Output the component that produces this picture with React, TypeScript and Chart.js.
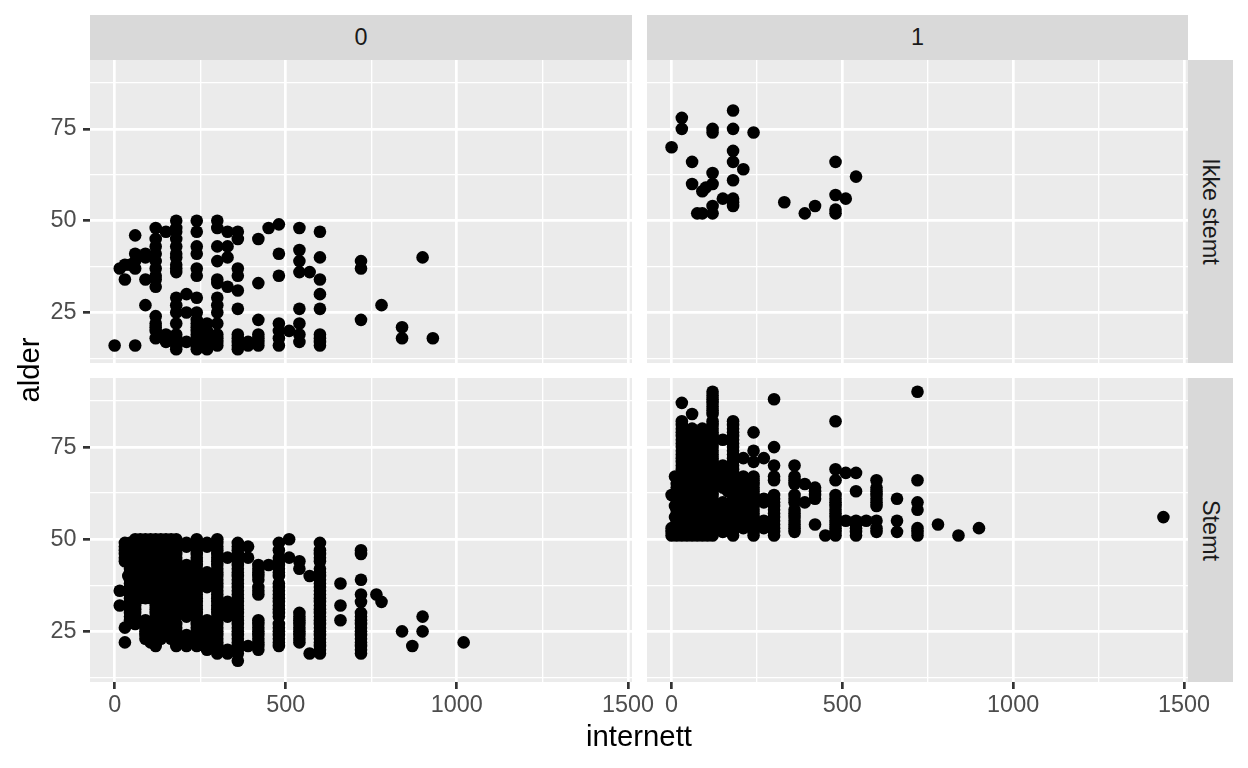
import React, { useEffect, useRef } from "react";
import { Chart, registerables } from "chart.js";

Chart.register(...registerables);

type Col = [number, number[]];

const xTicks = [0, 250, 500, 750, 1000, 1250, 1500];
const xLabels = [0, 500, 1000, 1500];
const yTicks = [12.5, 25, 37.5, 50, 62.5, 75, 87.5];
const yLabels = [25, 50, 75];
const xLimits = [-72, 1512];
const yLimits = [11.25, 93.75];
const columnStrips = ["0", "1"];
const rowStrips = ["Ikke stemt", "Stemt"];

const ikkeStemt0: Col[] = [
  [0, [16]], [15, [37]], [30, [38, 34]], [45, [38]],
  [60, [46, 41, 39, 37, 16]], [90, [41, 40, 34, 27]],
  [120, [48, 45, 43, 41, 39, 37, 35, 34, 32, 24, 22, 21, 20, 18]],
  [150, [47, 19, 17]],
  [180, [50, 48, 47, 45, 43, 41, 40, 38, 37, 36, 29, 27, 25, 22, 19, 18, 17, 16, 15]],
  [210, [30, 25, 17]],
  [240, [50, 47, 43, 41, 37, 35, 29, 25, 23, 22, 21, 20, 19, 18, 17, 16, 15]],
  [270, [22, 20, 19, 18, 17, 16, 15]],
  [300, [50, 48, 43, 39, 34, 33, 29, 27, 25, 22, 19, 18, 17, 16]],
  [330, [47, 43, 40, 32]],
  [360, [47, 45, 37, 35, 31, 26, 19, 18, 17, 16, 15]],
  [390, [17, 16]],
  [420, [45, 33, 23, 19, 18, 17, 16]],
  [450, [48]],
  [480, [49, 41, 35, 22, 20, 18, 16]],
  [510, [20]],
  [540, [48, 42, 39, 36, 26, 22, 19, 17]],
  [570, [36]],
  [600, [47, 40, 34, 30, 26, 19, 18, 17, 16]],
  [720, [39, 37, 23]], [780, [27]], [840, [21, 18]], [900, [40]], [930, [18]],
];

const ikkeStemt1: Col[] = [
  [0, [70]], [30, [78, 75]], [60, [66, 60]], [75, [52]], [90, [58, 52]], [100, [59]],
  [120, [75, 74, 63, 60, 54, 52]], [150, [56]],
  [180, [80, 75, 69, 66, 61, 56, 55, 54]], [210, [64]], [240, [74]],
  [330, [55]], [390, [52]], [420, [54]],
  [480, [66, 57, 53, 52]], [510, [56]], [540, [62]],
];

const stemt0: Col[] = [
  [15, [36, 32]],
  [30, [49, 48, 47, 46, 45, 44, 26, 22]],
  [40, [40]],
  [45, [49, 48, 47, 46, 45, 44, 43, 42, 41, 40, 39, 38, 37, 36, 35, 34, 33, 32, 31, 30, 29, 28]],
  [60, [50, 49, 48, 47, 46, 45, 44, 43, 42, 41, 40, 39, 38, 37, 36, 35, 34, 33, 32, 31, 30, 29, 28, 27]],
  [75, [50, 49, 48, 47, 46, 45, 44, 43, 42, 41, 40, 39, 38, 37, 36, 35, 34]],
  [90, [50, 49, 48, 47, 46, 45, 44, 43, 42, 41, 40, 39, 38, 37, 36, 35, 34, 28, 27, 26, 25, 24, 23]],
  [105, [50, 49, 48, 47, 46, 45, 44, 43, 42, 41, 40, 39, 38, 37, 36, 35, 34, 27, 26, 25, 24, 23, 22]],
  [120, [50, 49, 48, 47, 46, 45, 44, 43, 42, 41, 40, 39, 38, 37, 36, 35, 34, 33, 32, 31, 30, 29, 28, 27, 26, 25, 24, 23, 22, 21]],
  [135, [50, 49, 48, 47, 46, 45, 44, 43, 42, 41, 40, 39, 38, 37, 36, 35, 34, 33, 32, 31, 30, 27, 26, 25, 24, 23]],
  [150, [50, 49, 48, 47, 46, 45, 44, 43, 42, 41, 40, 39, 38, 37, 36, 35, 34, 33, 32, 31, 30, 29, 27, 26, 25, 24]],
  [165, [50, 49, 48, 47, 46, 45, 44, 43, 42, 41, 40, 39, 38, 37, 36, 35, 34, 33, 32, 31, 30, 27, 26, 25, 24, 23]],
  [180, [50, 49, 48, 47, 46, 45, 44, 43, 42, 41, 40, 39, 38, 37, 36, 35, 34, 33, 32, 31, 30, 29, 27, 26, 25, 24, 23, 22, 21]],
  [210, [49, 48, 43, 42, 41, 40, 39, 38, 37, 36, 35, 34, 33, 32, 31, 30, 29, 24, 23, 22, 21]],
  [240, [50, 49, 47, 46, 45, 44, 43, 42, 41, 40, 39, 38, 37, 36, 35, 34, 33, 32, 31, 30, 29, 28, 27, 26, 25, 24, 23, 22, 21]],
  [270, [49, 48, 41, 40, 39, 38, 37, 28, 27, 26, 25, 24, 23, 22, 21, 20]],
  [300, [50, 49, 48, 47, 46, 45, 44, 43, 42, 41, 40, 39, 38, 37, 36, 35, 34, 33, 32, 31, 30, 29, 28, 27, 26, 25, 24, 23, 22, 21, 20, 19]],
  [330, [45, 33, 32, 31, 30, 29, 20, 19]],
  [360, [49, 48, 47, 46, 45, 44, 43, 42, 41, 40, 39, 38, 37, 36, 35, 34, 33, 32, 31, 30, 29, 28, 27, 26, 25, 24, 23, 22, 21, 20, 19, 17]],
  [390, [48, 45, 21]],
  [420, [43, 42, 41, 40, 39, 37, 36, 35, 28, 27, 26, 25, 24, 23, 22, 21, 20]],
  [450, [43]],
  [480, [49, 47, 45, 44, 43, 42, 41, 40, 38, 37, 36, 35, 34, 33, 32, 31, 30, 29, 27, 26, 25, 24, 23, 22, 21]],
  [510, [50, 45]],
  [540, [44, 42, 30, 29, 28, 27, 26, 25, 24, 23, 22]],
  [570, [40, 19]],
  [600, [49, 47, 46, 45, 44, 42, 41, 40, 39, 38, 37, 36, 35, 34, 33, 32, 31, 30, 29, 28, 27, 26, 25, 24, 23, 22, 21, 20, 19]],
  [660, [38, 32, 28]],
  [720, [47, 46, 39, 35, 33, 30, 29, 28, 27, 26, 25, 24, 23, 22, 21, 20, 19]],
  [765, [35]], [780, [33]], [840, [25]], [870, [21]], [900, [29, 25]], [1020, [22]],
];

const stemt1: Col[] = [
  [0, [62, 53, 52, 51]],
  [10, [67, 59, 56]],
  [15, [65, 64, 63, 62, 61, 60, 59, 58, 57, 56, 55, 54, 53, 52, 51]],
  [30, [87, 82, 81, 80, 79, 78, 77, 76, 75, 74, 73, 72, 71, 70, 69, 68, 67, 66, 65, 64, 63, 62, 61, 60, 59, 58, 57, 56, 55, 54, 53, 52, 51]],
  [45, [78, 77, 76, 75, 74, 73, 72, 71, 70, 69, 68, 67, 66, 65, 64, 63, 62, 61, 60, 59, 58, 57, 56, 55, 54, 53, 52, 51]],
  [60, [84, 80, 79, 78, 77, 76, 75, 74, 73, 72, 71, 70, 69, 68, 67, 66, 65, 64, 63, 62, 61, 60, 59, 58, 57, 56, 55, 54, 53, 52, 51]],
  [75, [78, 77, 76, 75, 74, 73, 72, 71, 70, 69, 68, 67, 66, 65, 64, 63, 62, 61, 60, 59, 58, 57, 56, 55, 54, 53, 52, 51]],
  [90, [80, 79, 78, 76, 75, 74, 73, 72, 71, 70, 69, 68, 67, 66, 65, 64, 63, 62, 61, 60, 59, 58, 57, 56, 55, 54, 53, 52, 51]],
  [105, [76, 75, 74, 73, 72, 71, 70, 69, 68, 67, 66, 65, 64, 63, 62, 61, 60, 59, 58, 57, 56, 55, 54, 53, 52, 51]],
  [120, [90, 89, 88, 87, 86, 85, 84, 82, 81, 80, 79, 78, 77, 76, 75, 74, 73, 72, 71, 70, 69, 68, 67, 66, 65, 64, 63, 62, 61, 60, 59, 58, 57, 56, 55, 54, 53, 52, 51]],
  [150, [77, 70, 69, 68, 67, 66, 65, 64, 60, 59, 58, 57, 56, 55, 54, 53, 52]],
  [165, [63]],
  [180, [82, 81, 80, 79, 78, 77, 76, 75, 74, 73, 72, 71, 70, 69, 68, 67, 66, 65, 64, 63, 62, 61, 60, 59, 58, 57, 56, 55, 54, 53, 52, 51]],
  [210, [72, 67, 66, 65, 64, 63, 62, 61, 60, 59, 58, 57, 56, 55, 54, 53]],
  [240, [79, 74, 71, 67, 66, 65, 64, 63, 62, 61, 60, 59, 58, 57, 56, 55, 54, 52, 51]],
  [270, [72, 61, 60, 55, 54, 53]],
  [300, [88, 75, 70, 67, 66, 62, 61, 60, 59, 58, 57, 56, 55, 54, 53, 52, 51]],
  [360, [70, 67, 66, 65, 62, 61, 60, 58, 57, 56, 55, 54, 53, 52]],
  [390, [65, 60]],
  [420, [64, 63, 62, 61, 54]],
  [450, [51]],
  [480, [82, 69, 66, 62, 61, 60, 59, 58, 57, 56, 55, 54, 53, 52, 51]],
  [510, [68, 55]],
  [540, [68, 63, 55, 54, 53, 52, 51]],
  [570, [55]],
  [600, [66, 64, 63, 62, 61, 60, 59, 55, 53, 52]],
  [660, [61, 55, 52]],
  [720, [90, 66, 60, 58, 53, 52, 51]],
  [780, [54]], [840, [51]], [900, [53]], [1440, [56]],
];

const FONT = '"Liberation Sans", Arial, sans-serif';

const panelBackground = {
  id: "panelBackground",
  beforeDraw(chart: any) {
    const a = chart.chartArea;
    chart.ctx.save();
    chart.ctx.fillStyle = "#EBEBEB";
    chart.ctx.fillRect(a.left, a.top, a.right - a.left, a.bottom - a.top);
    chart.ctx.restore();
  },
};

const noPadding = (s: any) => {
  s.paddingLeft = 0;
  s.paddingRight = 0;
  s.paddingTop = 0;
  s.paddingBottom = 0;
};

function Panel({ cols, left, top, width, height, showX, showY }: {
  cols: Col[]; left: number; top: number; width: number; height: number; showX: boolean; showY: boolean;
}) {
  const ref = useRef<HTMLCanvasElement>(null);
  useEffect(() => {
    const axisH = showX ? 50 : 0;
    const axisW = showY ? 90 : 0;
    const tickFont = { family: FONT, size: 23.4 };
    const points = cols.flatMap(([x, ages]) => ages.map((y) => ({ x, y })));
    const chart = new Chart(ref.current!, {
      type: "scatter",
      data: {
        datasets: [{ data: points, backgroundColor: "#000", borderWidth: 0, pointRadius: 6.3, pointHoverRadius: 6.3 }],
      },
      plugins: [panelBackground],
      options: {
        responsive: false,
        animation: false,
        events: [],
        layout: { autoPadding: false, padding: { right: 34, top: 0, left: 0, bottom: 0 } },
        plugins: { legend: { display: false }, title: { display: false }, tooltip: { enabled: false } },
        scales: {
          x: {
            type: "linear", min: xLimits[0], max: xLimits[1],
            afterBuildTicks: (s: any) => { s.ticks = xTicks.map((value) => ({ value })); },
            afterFit: (s: any) => { s.height = axisH; noPadding(s); },
            border: { display: false },
            grid: {
              color: "#FFFFFF",
              lineWidth: (c: any) => (xLabels.includes(c.tick?.value) ? 2.7 : 1.35),
              drawTicks: showX,
              tickLength: 7,
              tickColor: (c: any) => (xLabels.includes(c.tick?.value) ? "#333333" : "rgba(0,0,0,0)"),
              tickWidth: 2.7,
            },
            ticks: {
              display: showX, autoSkip: false, maxRotation: 0, minRotation: 0, padding: 3, color: "#4D4D4D", font: tickFont,
              callback: (v: any) => (xLabels.includes(v) ? String(v) : ""),
            },
          },
          y: {
            type: "linear", min: yLimits[0], max: yLimits[1],
            afterBuildTicks: (s: any) => { s.ticks = yTicks.map((value) => ({ value })); },
            afterFit: (s: any) => { s.width = axisW; noPadding(s); },
            border: { display: false },
            grid: {
              color: "#FFFFFF",
              lineWidth: (c: any) => (yLabels.includes(c.tick?.value) ? 2.7 : 1.35),
              drawTicks: showY,
              tickLength: 7,
              tickColor: (c: any) => (yLabels.includes(c.tick?.value) ? "#333333" : "rgba(0,0,0,0)"),
              tickWidth: 2.7,
            },
            ticks: {
              display: showY, autoSkip: false, padding: 6.5, color: "#4D4D4D", font: tickFont,
              callback: (v: any) => (yLabels.includes(v) ? String(v) : ""),
            },
          },
        },
      } as any,
    });
    return () => chart.destroy();
  }, []);
  return <canvas ref={ref} width={width} height={height} style={{ position: "absolute", left, top, width, height }} />;
}

const stripStyle: React.CSSProperties = {
  position: "absolute", background: "#D9D9D9", color: "#1A1A1A", font: `23.4px ${FONT}`,
  display: "flex", alignItems: "center", justifyContent: "center",
};

export default function App() {
  return (
    <div style={{ position: "absolute", left: 0, top: 0, width: 1248, height: 768, background: "#fff", overflow: "hidden", fontFamily: FONT }}>
      <Panel cols={ikkeStemt0} left={0} top={60} width={666} height={303} showX={false} showY />
      <Panel cols={ikkeStemt1} left={647} top={60} width={575} height={303} showX={false} showY={false} />
      <Panel cols={stemt0} left={0} top={378} width={666} height={354} showX showY />
      <Panel cols={stemt1} left={647} top={378} width={575} height={354} showX showY={false} />
      <div style={{ ...stripStyle, left: 90, top: 15, width: 542, height: 45 }}>{columnStrips[0]}</div>
      <div style={{ ...stripStyle, left: 647, top: 15, width: 541, height: 45 }}>{columnStrips[1]}</div>
      <div style={{ ...stripStyle, left: 1188, top: 60, width: 45, height: 303 }}>
        <span style={{ transform: "rotate(90deg)", whiteSpace: "nowrap" }}>{rowStrips[0]}</span>
      </div>
      <div style={{ ...stripStyle, left: 1188, top: 378, width: 45, height: 304 }}>
        <span style={{ transform: "rotate(90deg)", whiteSpace: "nowrap" }}>{rowStrips[1]}</span>
      </div>
      <div style={{ position: "absolute", left: 439, width: 400, top: 719, textAlign: "center", font: `29.3px ${FONT}`, color: "#000" }}>internett</div>
      <div style={{ position: "absolute", left: -71, width: 200, top: 353, textAlign: "center", font: `29.3px ${FONT}`, color: "#000", transform: "rotate(-90deg)" }}>alder</div>
    </div>
  );
}
